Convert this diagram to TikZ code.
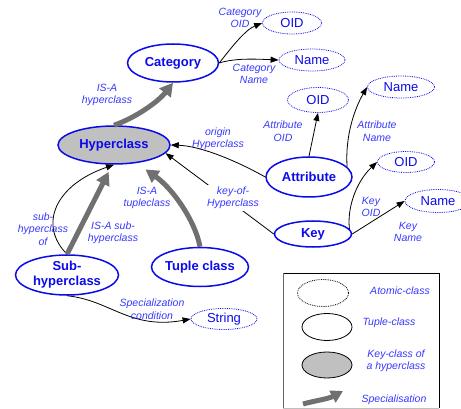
\documentclass[tikz,border=0pt]{standalone}
\usepackage{fontspec}
\setmainfont{Liberation Sans}
\usetikzlibrary{arrows.meta,shapes.geometric}
\definecolor{nblue}{RGB}{10,10,235}
\definecolor{lblue}{RGB}{55,55,255}
\definecolor{kgray}{RGB}{192,192,192}
\definecolor{agray}{RGB}{112,112,112}
\begin{document}
\begin{tikzpicture}[x=1pt,y=-1pt,
  cls/.style={ellipse, draw=nblue, line width=1.5pt, text=nblue, font=\fontsize{13}{15}\selectfont\bfseries, inner sep=-3pt, align=center},
  keycls/.style={cls, fill=kgray},
  atom/.style={ellipse, draw=nblue, densely dotted, line width=0.8pt, text=nblue, font=\fontsize{13}{15}\selectfont, inner sep=-3pt},
  lbl/.style={text=lblue, font=\fontsize{10.5}{12.5}\selectfont\itshape, align=center, inner sep=1.5pt},
  rel/.style={draw=black, line width=0.8pt, -{Triangle[length=8pt,width=6pt]}},
  spec/.style={draw=agray, line width=5pt, -{Triangle[length=13pt,width=14pt]}},
  lgel/.style={ellipse, draw=black, line width=0.8pt, minimum width=50pt, minimum height=27pt, inner sep=0pt}
]
\useasboundingbox (0,0) rectangle (461,409);

% main nodes
\node[cls, minimum width=91pt, minimum height=38pt] (cat) at (173,63) {Category};
\node[keycls, minimum width=112pt, minimum height=38pt] (hyper) at (114,145) {Hyperclass};
\node[cls, minimum width=86pt, minimum height=40pt] (attr) at (309,177) {Attribute};
\node[cls, minimum width=77pt, minimum height=26pt] (key) at (313,234) {Key};
\node[cls, minimum width=103pt, minimum height=40pt] (sub) at (67,275) {Sub-\\hyperclass};
\node[cls, minimum width=97pt, minimum height=39pt] (tuple) at (200,267) {Tuple class};

% atomic nodes
\node[atom, minimum width=59pt, minimum height=22pt] (catoid) at (292,23) {OID};
\node[atom, minimum width=66pt, minimum height=22pt] (catname) at (312,60) {Name};
\node[atom, minimum width=61pt, minimum height=25pt] (attroid) at (318,100) {OID};
\node[atom, minimum width=67pt, minimum height=22pt] (attrname) at (401,87) {Name};
\node[atom, minimum width=57pt, minimum height=21pt] (keyoid) at (406,162) {OID};
\node[atom, minimum width=66pt, minimum height=23pt] (keyname) at (438,201) {Name};
\node[atom, minimum width=66pt, minimum height=21pt] (string) at (224,319) {String};

% connectors
\draw[rel] (cat.east) .. controls (231,48) and (245,30) .. (catoid.west);
\draw[rel] (cat.east) .. controls (235,58) and (255,59) .. (catname.west);
\draw[spec] (hyper.north) .. controls (135,118) and (158,102) .. (cat.south);
\draw[rel] (attr.west) .. controls (235,160) and (200,146) .. (hyper.east);
\draw[rel] (key.west) -- (hyper.-9);
\draw[rel] (attr.north) -- (attroid.south);
\draw[rel] (attr.15) .. controls (345,135) and (355,108) .. (attrname.west);
\draw[rel] (key.8) .. controls (347,208) and (356,182) .. (keyoid.west);
\draw[rel] (key.east) -- (keyname.west);
\draw[rel] (sub.north) .. controls (38,225) and (55,185) .. (hyper.south);
\draw[spec, shorten >=8pt] (sub.north) -- (hyper.265);
\draw[spec, shorten >=11pt] (tuple.north) .. controls (195,220) and (172,188) .. (hyper.-39);
\draw[rel] (sub.south) .. controls (110,300) and (130,330) .. (string.west);

% labels
\node[lbl] (lcatoid) at (240,18) {Category\\OID};
\node[lbl] (lcatname) at (254,74) {Category\\Name};
\node[lbl] (lisahyp) at (107,95) {IS-A\\hyperclass};
\node[lbl] (lorig) at (218,139) {origin\\Hyperclass};
\node[lbl] (lattroid) at (283,131) {Attribute\\OID};
\node[lbl] (lattrname) at (377,131) {Attribute\\Name};
\node[lbl, fill=white] (lkeyof) at (233,198) {key-of-\\Hyperclass};
\node[lbl] (lkeyoid) at (371,207) {Key\\OID};
\node[lbl] (lkeyname) at (408,232) {Key\\Name};
\node[lbl] (lisatuple) at (147,198) {IS-A\\tupleclass};
\node[lbl] (lsubof) at (43,229) {sub-\\hyperclass\\of};
\node[lbl] (lisasub) at (113,233) {IS-A sub-\\hyperclass};
\node[lbl] (lspec) at (152,309) {Specialization\\condition};

% legend
\coordinate (bxtl) at (283,273);
\coordinate (bxtr) at (439,273);
\coordinate (bxbr) at (439,408);
\coordinate (bxbl) at (283,408);
\draw[black, line width=0.9pt] (bxtl) -- (bxtr) -- (bxbr);
\draw[black!60, line width=0.9pt] (bxtl) -- (bxbl);
\draw[black!25, line width=0.9pt] (bxbl) -- (bxbr);
\node[lgel, densely dotted, minimum width=51pt] (lgatom) at (323,293) {};
\node[lgel] (lgtuple) at (327,327) {};
\node[lgel, fill=kgray, minimum height=26pt] (lgkey) at (327,365) {};
\coordinate (lgs1) at (303,404);
\coordinate (lgs2) at (343,391);
\draw[spec, -{Triangle[length=12pt,width=13pt]}] (lgs1) .. controls (318,400) and (328,399) .. (lgs2);
\node[lbl] (lgatomt) at (400,291) {Atomic-class};
\node[lbl] (lgtuplet) at (389,323) {Tuple-class};
\node[lbl] (lgkeyt) at (396,361) {Key-class of\\a hyperclass};
\node[lbl] (lgspect) at (394,400) {Specialisation};
\end{tikzpicture}
\end{document}
